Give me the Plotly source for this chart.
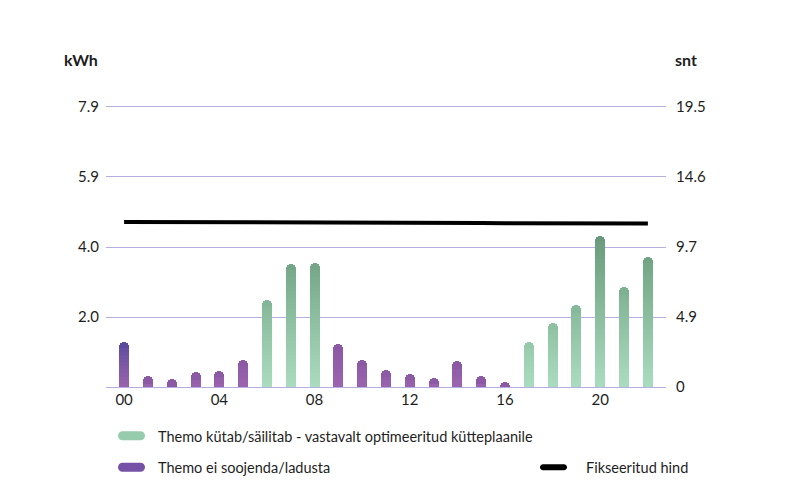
import plotly.graph_objects as go

# ---------------- data ----------------
hours = list(range(23))
x_tick_vals = [0, 4, 8, 12, 16, 20]
x_tick_text = ["00", "04", "08", "12", "16", "20"]

green_kwh = [None, None, None, None, None, None, 2.45, 3.47, 3.49,
             None, None, None, None, None, None, None, None,
             1.28, 1.80, 2.33, 4.26, 2.83, 3.68]
purple_kwh = [1.28, 0.31, 0.22, 0.43, 0.45, 0.78, None, None, None,
              1.21, 0.76, 0.48, 0.36, 0.25, 0.74, 0.32, 0.15,
              None, None, None, None, None, None]
price_snt = [11.49, 11.49, 11.48, 11.48, 11.47, 11.47, 11.46, 11.46, 11.45,
             11.45, 11.44, 11.44, 11.43, 11.43, 11.42, 11.42, 11.41, 11.41,
             11.40, 11.40, 11.39, 11.39, 11.38]

left_tick_vals = [0, 1.975, 3.95, 5.925, 7.9]
left_tick_text = ["", "2.0", "4.0", "5.9", "7.9"]
right_tick_vals = [0, 4.875, 9.75, 14.625, 19.5]
right_tick_text = ["0", "4.9", "9.7", "14.6", "19.5"]

label_green = "Themo kütab/säilitab - vastavalt optimeeritud kütteplaanile"
label_purple = "Themo ei soojenda/ladusta"
label_price = "Fikseeritud hind"

# ---------------- styling helpers ----------------
FONT = "Lato"
TXT = "#1e1e1e"
GREEN_BOTTOM = (170, 221, 191)
GREEN_TOP = (104, 154, 123)
PURPLE_BOTTOM = (155, 100, 174)
PURPLE_TOP_FIRST = (92, 74, 158)
PURPLE_TOP = (140, 89, 165)


def mix(c1, c2, t):
    t = max(0.0, min(1.0, t))
    return "rgb(%d,%d,%d)" % tuple(round(a + (b - a) * t) for a, b in zip(c1, c2))


green_max = max(v for v in green_kwh if v is not None)


def color_at(i, h):
    if green_kwh[i] is not None:
        return mix(GREEN_BOTTOM, GREEN_TOP, h / green_max)
    v = purple_kwh[i]
    top = PURPLE_TOP_FIRST if i == 0 else PURPLE_TOP
    return mix(PURPLE_BOTTOM, top, h / v if v else 0)


values = [g if g is not None else p for g, p in zip(green_kwh, purple_kwh)]

fig = go.Figure()

BAR_W = 0.42
# full rounded bars, coloured by their top
fig.add_trace(go.Bar(
    x=hours, y=values, width=BAR_W,
    marker=dict(color=[color_at(i, v) for i, v in enumerate(values)],
                cornerradius=5, line=dict(width=0)),
    showlegend=False, hoverinfo="skip", yaxis="y"))

# gradient bands (overlayed, highest first)
step = 0.1
pad = 0.15
n_bands = int(green_max / step) + 1
for k in range(n_bands, 0, -1):
    b = k * step
    ys = [b if (v is not None and b <= v - pad) else None for v in values]
    if all(y is None for y in ys):
        continue
    cols = [color_at(i, b - step / 2) for i in range(len(values))]
    fig.add_trace(go.Bar(
        x=hours, y=ys, width=BAR_W,
        marker=dict(color=cols, line=dict(width=0)),
        showlegend=False, hoverinfo="skip", yaxis="y"))

# price line
fig.add_trace(go.Scatter(
    x=hours, y=price_snt, mode="lines", yaxis="y2",
    line=dict(color="black", width=4), showlegend=False, hoverinfo="skip"))

# ---------------- layout ----------------
# page body has an 8px margin, so the figure is 8px smaller
OFF = 8
W, H = 800 - OFF, 499 - OFF
Y_LO, Y_HI = -0.05, 7.95
K = 19.5 / 7.9
PX_PER_KWH = 280 / 7.9
top_abs = 107 - (Y_HI - 7.9) * PX_PER_KWH
bot_abs = 387 + (0 - Y_LO) * PX_PER_KWH
L, R = 106 - OFF, 800 - 666
T, B = top_abs - OFF, 499 - bot_abs
PW, PH = W - L - R, H - T - B


def px(xp):
    return (xp - OFF - L) / PW


def py(yp):
    return (H - B - (yp - OFF)) / PH


grid_col = "#b4afe0"
fig.update_layout(
    width=W, height=H,
    margin=dict(l=L, r=R, t=T, b=B, pad=0),
    paper_bgcolor="white", plot_bgcolor="white",
    barmode="overlay", bargap=0,
    font=dict(family=FONT, size=15, color=TXT),
    xaxis=dict(range=[-0.76, 22.76], tickvals=x_tick_vals, ticktext=x_tick_text,
               showgrid=False, zeroline=False, showline=False, ticks="",
               tickfont=dict(size=15, color=TXT)),
    yaxis=dict(range=[Y_LO, Y_HI], tickvals=left_tick_vals, ticktext=left_tick_text,
               showgrid=True, gridcolor=grid_col, gridwidth=1, zeroline=False,
               showline=False, ticks="", ticklabelstandoff=6,
               tickfont=dict(size=15, color=TXT)),
    yaxis2=dict(range=[Y_LO * K, Y_HI * K], tickvals=right_tick_vals,
                ticktext=right_tick_text,
                overlaying="y", side="right", showgrid=False, zeroline=False,
                showline=False, ticks="", ticklabelstandoff=9,
                tickfont=dict(size=15, color=TXT)),
    showlegend=False,
)

annots = [
    dict(text="<b>kWh</b>", x=px(81), y=py(60), xanchor="center", yanchor="middle"),
    dict(text="<b>snt</b>", x=px(686), y=py(60), xanchor="center", yanchor="middle"),
    dict(text=label_green, x=px(156), y=py(436), xanchor="left", yanchor="middle"),
    dict(text=label_purple, x=px(156), y=py(467), xanchor="left", yanchor="middle"),
    dict(text=label_price, x=px(584), y=py(467), xanchor="left", yanchor="middle"),
]
for a in annots:
    fig.add_annotation(xref="paper", yref="paper", showarrow=False,
                       font=dict(family=FONT, size=16 if "<b>" in a["text"] else 14.5,
                                 color=TXT), **a)


def pill(x0, yc, w, h, color):
    r = h / 2
    k = r * 0.55
    path = (f"M {r},{-r} L {w - r},{-r} C {w - r + k},{-r} {w},{-k} {w},0 "
            f"C {w},{k} {w - r + k},{r} {w - r},{r} L {r},{r} "
            f"C {r - k},{r} 0,{k} 0,0 C 0,{-k} {r - k},{-r} {r},{-r} Z")
    fig.add_shape(type="path", xref="paper", yref="paper",
                  xsizemode="pixel", ysizemode="pixel",
                  xanchor=px(x0), yanchor=py(yc), path=path,
                  fillcolor=color, line=dict(width=0))


pill(118, 435.5, 27, 9, "rgb(150,203,171)")
pill(118, 467, 27, 9, "rgb(118,82,166)")
pill(540, 467, 27, 6, "black")

fig.write_html("out.html")
